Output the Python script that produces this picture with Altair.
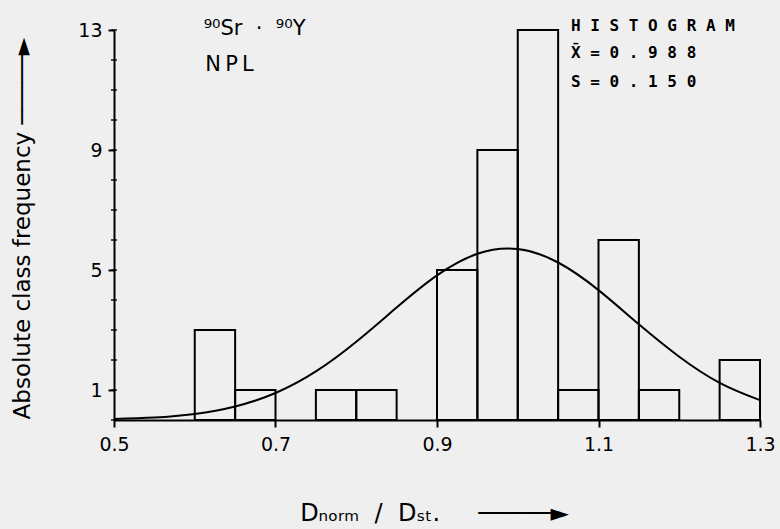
import altair as alt
import pandas as pd

# Histogram classes (left edge, right edge, absolute frequency)
bin_start = [0.60, 0.65, 0.75, 0.80, 0.90, 0.95, 1.00, 1.05, 1.10, 1.15, 1.25]
bin_end = [0.65, 0.70, 0.80, 0.85, 0.95, 1.00, 1.05, 1.10, 1.15, 1.20, 1.30]
counts = [3, 1, 1, 1, 5, 9, 13, 1, 6, 1, 2]

# Fitted normal curve
curve_x = [0.50, 0.55, 0.60, 0.65, 0.70, 0.75, 0.80, 0.85, 0.90, 0.95,
           1.00, 1.05, 1.10, 1.15, 1.20, 1.25, 1.30]
curve_y = [0.03, 0.08, 0.20, 0.45, 0.90, 1.62, 2.61, 3.75, 4.82, 5.54,
           5.70, 5.25, 4.33, 3.19, 2.11, 1.24, 0.66]

NB = "\u00a0"
# Annotations
left_text = ["\u2079\u2070Sr" + NB * 2 + "\u00b7" + NB * 2 + "\u2079\u2070Y", "N\u2009P\u2009L"]
left_x = [0.611, 0.613]
left_y = [12.85, 11.62]

box_text = ["H I S T O G R A M", "X\u0304 = 0 . 9 8 8", "S = 0 . 1 5 0"]
box_x = [1.066, 1.066, 1.066]
box_y = [13.15, 12.22, 11.28]

x_ticks = [0.5, 0.7, 0.9, 1.1, 1.3]
y_ticks = [1, 5, 9, 13]
y_minor = [0, 1, 2, 3, 4, 5, 6, 7, 8, 9, 10, 11, 12, 13]

bars = pd.DataFrame({"x": bin_start, "x2": bin_end, "n": counts})
curve = pd.DataFrame({"x": curve_x, "y": curve_y})
ltxt = pd.DataFrame({"x": left_x, "y": left_y, "t": left_text})
btxt = pd.DataFrame({"x": box_x, "y": box_y, "t": box_text})
minor = pd.DataFrame({"v": y_minor})

FONT = "DejaVu Sans"

xscale = alt.Scale(domain=[0.5, 1.3], nice=False)
yscale = alt.Scale(domain=[0, 13], nice=False)

xaxis = alt.Axis(
    values=x_ticks, format=".1f", grid=False,
    title="D\u2099\u2092\u1d63\u2098" + NB * 2 + "/" + NB * 2 + "D\u209b\u209c." + NB * 5
          + "\u2500\u2500\u2500\u2500\u2500\u25ba",
    titleFont=FONT, titleFontSize=24, titleFontWeight="normal",
    titleX=320, titleY=100, titleBaseline="alphabetic", titleAlign="center",
    labelFont=FONT, labelFontSize=19, labelColor="black", labelPadding=8,
    labelFlush=False, labelOverlap=False,
    tickSize=7, tickWidth=2, tickColor="black",
    domainColor="black", domainWidth=2,
)
yaxis = alt.Axis(
    values=y_ticks, grid=False,
    title="Absolute class frequency \u2500\u2500\u2500\u2500\u2500\u25ba",
    titleFont=FONT, titleFontSize=23, titleFontWeight="normal",
    titleX=-92, titleY=198, titleAngle=-90, titleAlign="center", titleBaseline="middle",
    labelFont=FONT, labelFontSize=19, labelColor="black", labelPadding=6,
    labelFlush=False, labelOverlap=False,
    tickSize=6, tickWidth=2, tickColor="black",
    domainColor="black", domainWidth=2,
)


def X(field):
    return alt.X(field, type="quantitative", scale=xscale, axis=xaxis)


def Y(field):
    return alt.Y(field, type="quantitative", scale=yscale, axis=yaxis)


bar_layer = alt.Chart(bars).mark_rect(
    fillOpacity=0, stroke="black", strokeWidth=2
).encode(
    x=X("x"),
    x2="x2:Q",
    y=Y("n"),
    y2=alt.datum(0),
)

curve_layer = alt.Chart(curve).mark_line(
    color="black", strokeWidth=2, interpolate="natural"
).encode(x=X("x"), y=Y("y"))

minor_layer = alt.Chart(minor).mark_tick(
    orient="horizontal", color="black", size=6, thickness=2
).encode(x=alt.X(datum=0.5, type="quantitative", scale=xscale, axis=xaxis), y=Y("v"))

left_layer = alt.Chart(ltxt).mark_text(
    align="left", baseline="alphabetic", font=FONT, fontSize=21, color="black"
).encode(x=X("x"), y=Y("y"), text="t:N")

box_layer = alt.Chart(btxt).mark_text(
    align="left", baseline="middle", font="DejaVu Sans Mono", fontSize=16,
    fontWeight="bold", color="black"
).encode(x=X("x"), y=Y("y"), text="t:N")

chart = alt.layer(bar_layer, curve_layer, minor_layer, left_layer, box_layer).properties(
    width=646, height=390,
    autosize=alt.AutoSizeParams(type="none"),
    padding={"left": 114, "top": 30, "right": 20, "bottom": 109},
    background="#efefef",
).configure_view(stroke=None)

chart.save("out.html", embed_options={"renderer": "svg", "actions": False})
